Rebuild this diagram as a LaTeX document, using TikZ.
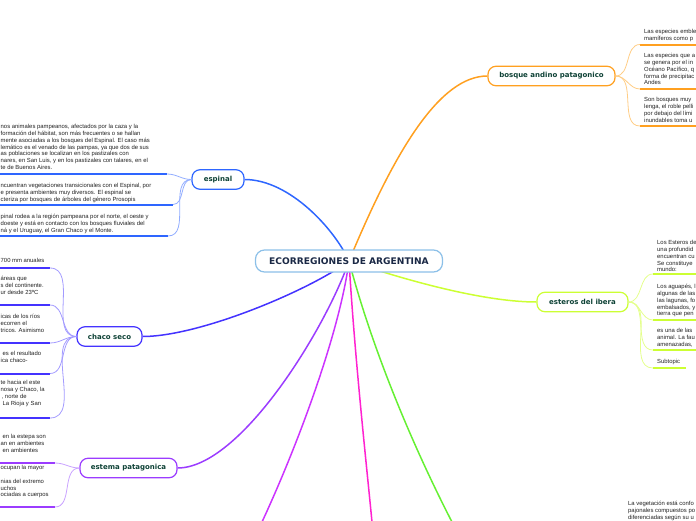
\documentclass[tikz,border=0pt]{standalone}
\usepackage{fontspec}
\setmainfont{Liberation Sans}
\newfontfamily\labfont{DejaVu Sans}
\usetikzlibrary{backgrounds}
\definecolor{rootc}{HTML}{8CC0E8}
\definecolor{titlec}{HTML}{1A2845}
\definecolor{labc}{HTML}{0E4236}
\definecolor{bodyc}{HTML}{222222}
\definecolor{espc}{HTML}{2E66FF}
\definecolor{espl}{HTML}{92ADFF}
\definecolor{chac}{HTML}{4433FF}
\definecolor{chal}{HTML}{A39BFF}
\definecolor{estc}{HTML}{9B3CFF}
\definecolor{estl}{HTML}{C9A2FF}
\definecolor{purc}{HTML}{CC33FF}
\definecolor{magc}{HTML}{FF22D0}
\definecolor{grnc}{HTML}{66F033}
\definecolor{ibec}{HTML}{CCFF33}
\definecolor{ibel}{HTML}{E4FF8C}
\definecolor{bosc}{HTML}{FFA020}
\definecolor{bosl}{HTML}{FFCD85}
\tikzset{
  rootbox/.style={draw=rootc, line width=1.2pt, rounded corners=9pt, fill=white,
    minimum width=187pt, minimum height=22pt, inner sep=0pt,
    font=\labfont\bfseries\fontsize{9.1}{11}\selectfont, text=titlec},
  branchbox/.style={draw=#1, line width=1.2pt, rounded corners=8pt, fill=white,
    minimum height=19.5pt, inner sep=0pt,
    font=\labfont\bfseries\fontsize{7}{8}\selectfont, text=labc},
  leaftext/.style={align=left, inner sep=0pt, anchor=north west,
    font=\fontsize{5.9}{6.8}\selectfont, text=bodyc},
  trunk/.style={draw=#1, line width=1.5pt},
  twig/.style={draw=#1, line width=0.8pt},
  uline/.style={draw=#1, line width=2pt}
}
\begin{document}
\begin{tikzpicture}[x=1pt,y=-1pt]
\useasboundingbox (0,0) rectangle (696,520);
\clip (0,0) rectangle (696,520);

% ---------- main nodes ----------
\node[rootbox] (root) at (349,261) {ECORREGIONES DE ARGENTINA};
\node[branchbox=espc, minimum width=52pt] (esp) at (218,179.5) {espinal};
\node[branchbox=chac, minimum width=65pt] (cha) at (109.5,336.5) {chaco seco};
\node[branchbox=estc, minimum width=97pt] (est) at (128.5,468) {estema patagonica};
\node[branchbox=bosc, minimum width=127pt] (bos) at (551.5,76) {bosque andino patagonico};
\node[branchbox=ibec, minimum width=91pt] (ibe) at (582.5,302) {esteros del ibera};

% free ends at the bottom edge
\coordinate (pb) at (262,522);
\coordinate (mb) at (372,522);
\coordinate (gb) at (452,522);

% ---------- main connectors ----------
\begin{scope}[on background layer]
\draw[trunk=espc] (root.center) .. controls (335,230) and (290,179.5) .. (esp.east);
\draw[trunk=bosc] (root.center) .. controls (395,150) and (440,76) .. (bos.west);
\draw[trunk=chac] (root.center) .. controls (310,290) and (200,336.5) .. (cha.east);
\draw[trunk=estc] (root.center) .. controls (325,330) and (240,468) .. (est.east);
\draw[trunk=purc] (root.center) .. controls (340,330) and (300,440) .. (pb);
\draw[trunk=magc] (root.center) .. controls (355,360) and (366,460) .. (mb);
\draw[trunk=grnc] (root.center) .. controls (375,360) and (420,460) .. (gb);
\draw[trunk=ibec] (root.center) .. controls (420,285) and (490,302) .. (ibe.west);
\end{scope}

% ---------- espinal ----------
\node[leaftext] (e1) at (0.5,124.2) {nos animales pampeanos, afectados por la caza y la\\
formación del hábitat, son más frecuentes o se hallan\\
mente asociadas a los bosques del Espinal. El caso más\\
lemático es el venado de las pampas, ya que dos de sus\\
as poblaciones se localizan en los pastizales con\\
nares, en San Luis, y en los pastizales con talares, en el\\
te de Buenos Aires.};
\node[leaftext] (e2) at (0.5,183.2) {ncuentran vegetaciones transicionales con el Espinal, por\\
e presenta ambientes muy diversos. El espinal se\\
cteriza por bosques de árboles del género Prosopis};
\node[leaftext] (e3) at (0.5,214.2) {pinal rodea a la región pampeana por el norte, el oeste y\\
doeste y está en contacto con los bosques fluviales del\\
ná y el Uruguay, el Gran Chaco y el Monte.};
\coordinate (e1s) at (0,174); \coordinate (e1u) at (167,174);
\coordinate (e2s) at (0,204.5); \coordinate (e2u) at (173,204.5);
\coordinate (e3s) at (0,236); \coordinate (e3u) at (168,236);
\foreach \i in {1,2,3}{
  \draw[uline=espc] (e\i s) -- (e\i u);
  \draw[twig=espl] (esp.west) to[out=180,in=0] (e\i u);
}

% ---------- chaco seco ----------
\node[leaftext] (c1) at (0.5,258.2) {700 mm anuales};
\node[leaftext] (c2) at (0.5,276.2) {áreas que\\ s del continente.\\ ur desde 23ºC};
\node[leaftext] (c3) at (0.5,314.2) {icas de los ríos\\ ecorren el\\ tricos. Asimismo};
\node[leaftext] (c4) at (0.5,351.2) {\hspace{2pt}es el resultado\\ ica chaco-};
\node[leaftext] (c5) at (0.5,380.2) {te hacia el este\\ nosa y Chaco, la\\ \hspace{1pt}, norte de\\ \hspace{2pt}La Rioja y San};
\coordinate (c1s) at (0,268); \coordinate (c1u) at (50,268);
\coordinate (c2s) at (0,305); \coordinate (c2u) at (50,305);
\coordinate (c3s) at (0,343); \coordinate (c3u) at (50,343);
\coordinate (c4s) at (0,373.5); \coordinate (c4u) at (50,373.5);
\coordinate (c5s) at (0,418); \coordinate (c5u) at (50,418);
\foreach \i in {1,...,5}{
  \draw[uline=chac] (c\i s) -- (c\i u);
  \draw[twig=chal] (cha.west) to[out=180,in=0] (c\i u);
}

% ---------- estema patagonica ----------
\node[leaftext] (s1) at (0.5,434.2) {\hspace{2pt}en la estepa son\\ an en ambientes\\ \hspace{2pt}en ambientes};
\node[leaftext] (s2) at (0.5,465.2) {ocupan la mayor\\[6.8pt] nias del extremo\\ uchos\\ ociadas a cuerpos};
\coordinate (s1s) at (0,463); \coordinate (s1u) at (55,463);
\coordinate (s2s) at (0,507); \coordinate (s2u) at (55,507);
\foreach \i in {1,2}{
  \draw[uline=estc] (s\i s) -- (s\i u);
  \draw[twig=estl] (est.west) to[out=180,in=0] (s\i u);
}

% ---------- bosque andino patagonico ----------
\node[leaftext] (b1) at (644,29.2) {Las especies emble\\ mamíferos como p};
\node[leaftext] (b2) at (644,53.2) {Las especies que a\\ se genera por el in\\ Océano Pacífico, q\\ forma de precipitac\\ Andes};
\node[leaftext] (b3) at (644,97.2) {Son bosques muy \\ lenga, el roble pelli\\ por debajo del lími\\ inundables toma u};
\coordinate (b1u) at (640,44.5); \coordinate (b1e) at (697,44.5);
\coordinate (b2u) at (640,89); \coordinate (b2e) at (697,89);
\coordinate (b3u) at (640,126); \coordinate (b3e) at (697,126);
\foreach \i in {1,2,3}{
  \draw[uline=bosc] (b\i u) -- (b\i e);
  \draw[twig=bosl] (bos.east) to[out=0,in=180] (b\i u);
}

% ---------- esteros del ibera ----------
\node[leaftext] (i1) at (657,240.2) {Los Esteros de\\ una profundid\\ encuentran cu\\ Se constituye\\ mundo:};
\node[leaftext] (i2) at (657,284.2) {Los aguapés, l\\ algunas de las\\ las lagunas, fo\\ embalsados, y\\ tierra que pen};
\node[leaftext] (i3) at (657,328.2) {es una de las\\ animal. La fau\\ amenazadas, };
\node[leaftext] (i4) at (657,359.2) {Subtopic};
\coordinate (i1u) at (653,274); \coordinate (i1e) at (697,274);
\coordinate (i2u) at (653,320); \coordinate (i2e) at (697,320);
\coordinate (i3u) at (653,350); \coordinate (i3e) at (697,350);
\coordinate (i4u) at (653,368); \coordinate (i4e) at (686,368);
\foreach \i in {1,...,4}{
  \draw[uline=ibec] (i\i u) -- (i\i e);
  \draw[twig=ibel] (ibe.east) to[out=0,in=180] (i\i u);
}

% ---------- bottom right text ----------
\node[leaftext] (g1) at (628,501.2) {La vegetación está confo\\ pajonales compuestos po\\ diferenciadas según su u};
\end{tikzpicture}
\end{document}
